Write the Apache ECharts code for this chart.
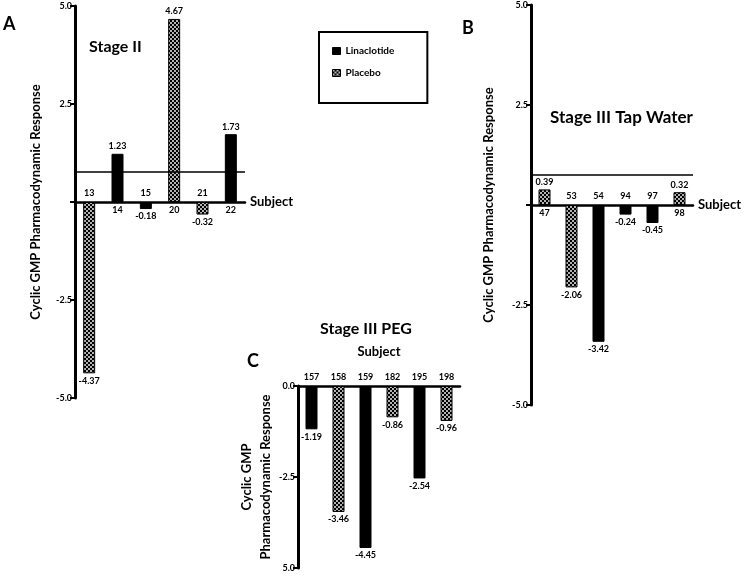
<!DOCTYPE html>
<html><head><meta charset="utf-8">
<script src="https://cdn.jsdelivr.net/npm/echarts@6/dist/echarts.min.js"></script>
<style>html,body{margin:0;padding:0;background:#fff}#c{width:754px;height:578px}</style>
</head><body><div id="c"></div><script>
// ---- data ----
const subjectsA = ['13','14','15','20','21','22'];
const valuesA = [-4.37, 1.23, -0.18, 4.67, -0.32, 1.73];
const groupA = ['Placebo','Linaclotide','Linaclotide','Placebo','Placebo','Linaclotide'];
const subjectsB = ['47','53','54','94','97','98'];
const valuesB = [0.39, -2.06, -3.42, -0.24, -0.45, 0.32];
const groupB = ['Placebo','Placebo','Linaclotide','Linaclotide','Linaclotide','Placebo'];
const subjectsC = ['157','158','159','182','195','198'];
const valuesC = [-1.19, -3.46, -4.45, -0.86, -2.54, -0.96];
const groupC = ['Linaclotide','Placebo','Linaclotide','Placebo','Linaclotide','Placebo'];
const tickValsAB = [-5, -2.5, 2.5, 5];
const tickTextAB = ['-5.0', '-2.5', '2.5', '5.0'];
const tickValsC = [-5, -2.5, 0];
const tickTextC = ['5.0', '-2.5', '0.0'];
const refLineA = 0.77;
const refLineB = 0.75;
const treatments = ['Linaclotide', 'Placebo'];

// ---- pattern ----
const pc = document.createElement('canvas'); pc.width = 4; pc.height = 4;
const g = pc.getContext('2d');
g.fillStyle = '#000'; g.fillRect(0, 0, 4, 4);
g.fillStyle = '#fff';
[[1, 1], [3, 3]].forEach(([x, y]) => { g.beginPath(); g.arc(x, y, 0.95, 0, Math.PI * 2); g.fill(); });
const fills = { 'Linaclotide': '#000', 'Placebo': { image: pc, repeat: 'repeat' } };

const FONT = 'Lato';
const small = { fontSize: 9, fontWeight: 'bold', fontFamily: FONT, color: '#000' };
const nameStyle = { fontSize: 13, fontWeight: 'bold', fontFamily: FONT, color: '#000' };

function xAx(gi, cats) {
  return { type: 'category', gridIndex: gi, data: cats, position: 'bottom',
    axisLine: { onZero: true, lineStyle: { color: '#000', width: 2.5 } },
    axisTick: { show: false }, axisLabel: { show: false },
    name: 'Subject', nameLocation: 'end', nameGap: 5, nameTextStyle: nameStyle };
}
function yAx(gi, min, max, tv, tt, name, gap, extra) {
  return Object.assign({ type: 'value', gridIndex: gi, min, max, interval: 2.5,
    splitLine: { show: false },
    axisLine: { show: true, onZero: false, lineStyle: { color: '#000', width: 3 } },
    axisTick: { show: true, length: 5, lineStyle: { width: 2, color: '#000' } },
    axisLabel: Object.assign({}, small, { margin: 3, formatter: v => { const k = tv.indexOf(v); return k >= 0 ? tt[k] : ''; } }),
    name, nameLocation: 'middle', nameRotate: 90, nameGap: gap, nameTextStyle: nameStyle }, extra || {});
}
function mkSeries(vals, groups, name, xi, yi, ref) {
  const s = { type: 'bar', name, xAxisIndex: xi, yAxisIndex: yi, barWidth: 12, barGap: '-100%',
    itemStyle: { color: fills[name], borderColor: '#000', borderWidth: 1 },
    label: Object.assign({}, small, { show: true, distance: 3, formatter: p => Number(p.value).toFixed(2) }),
    data: vals.map((v, i) => groups[i] === name ? { value: v, label: { position: v >= 0 ? 'top' : 'bottom' } } : null) };
  if (ref !== undefined) {
    s.markLine = { silent: true, symbol: 'none', label: { show: false },
      lineStyle: { color: '#000', width: 1.5, type: 'solid' }, data: [{ yAxis: ref }] };
  }
  return s;
}
// subject labels placed on the side of the axis opposite to the bar
function subjSeries(vals, xi, yi) {
  return { type: 'bar', name: 'subject', xAxisIndex: xi, yAxisIndex: yi, barWidth: 12, barGap: '-100%',
    silent: true, itemStyle: { color: 'rgba(0,0,0,0)' },
    label: Object.assign({}, small, { show: true, distance: 4, formatter: p => p.name }),
    data: vals.map(v => ({ value: 0, label: { position: v >= 0 ? 'bottom' : 'top' } })) };
}

const series = [];
treatments.forEach((t, k) => {
  series.push(mkSeries(valuesA, groupA, t, 0, 0, k === 0 ? refLineA : undefined));
  series.push(mkSeries(valuesB, groupB, t, 1, 1, k === 0 ? refLineB : undefined));
  series.push(mkSeries(valuesC, groupC, t, 2, 2));
});
series.push(subjSeries(valuesA, 0, 0));
series.push(subjSeries(valuesB, 1, 1));

const titleStyle = (s) => ({ fontSize: s, fontWeight: 'bold', fontFamily: FONT, color: '#000' });
const option = {
  animation: false,
  backgroundColor: '#fff',
  title: [
    { text: 'A', left: 3, top: 15, textStyle: titleStyle(18), padding: 0 },
    { text: 'Stage II', left: 89, top: 39, textStyle: titleStyle(16), padding: 0 },
    { text: 'B', left: 462, top: 19, textStyle: titleStyle(18), padding: 0 },
    { text: 'Stage III Tap Water', left: 550, top: 109, textStyle: titleStyle(17), padding: 0 },
    { text: 'C', left: 247, top: 352, textStyle: titleStyle(18), padding: 0 },
    { text: 'Stage III PEG', left: 320, top: 321, textStyle: titleStyle(16), padding: 0 }
  ],
  legend: { data: treatments, orient: 'vertical', left: 319, top: 32,
    borderColor: '#000', borderWidth: 2, padding: [14, 33, 25, 13],
    itemWidth: 8, itemHeight: 7, itemGap: 12, icon: 'rect',
    itemStyle: { borderColor: '#000', borderWidth: 1 },
    textStyle: { fontSize: 10, fontWeight: 'bold', fontFamily: FONT, color: '#000' } },
  grid: [
    { left: 75, top: 6, width: 170, height: 392 },
    { left: 531, top: 5, width: 162, height: 400 },
    { left: 298, top: 386, width: 162, height: 182 }
  ],
  xAxis: [xAx(0, subjectsA), xAx(1, subjectsB),
    { type: 'category', gridIndex: 2, data: subjectsC, position: 'top',
      axisLine: { onZero: false, lineStyle: { color: '#000', width: 2.5 } },
      axisTick: { show: false },
      axisLabel: Object.assign({}, small, { interval: 0, margin: 4 }),
      name: 'Subject', nameLocation: 'middle', nameGap: 28, nameTextStyle: nameStyle }
  ],
  yAxis: [
    yAx(0, -5, 5, tickValsAB, tickTextAB, 'Cyclic GMP Pharmacodynamic Response', 33),
    yAx(1, -5, 5, tickValsAB, tickTextAB, 'Cyclic GMP Pharmacodynamic Response', 36),
    yAx(2, -5, 0, tickValsC, tickTextC, 'Cyclic GMP\nPharmacodynamic Response', 18,
      { nameTextStyle: Object.assign({}, nameStyle, { lineHeight: 19 }) })
  ],
  series
};
const chart = echarts.init(document.getElementById('c'), null, { renderer: 'canvas' });
chart.setOption(option);
</script></body></html>
